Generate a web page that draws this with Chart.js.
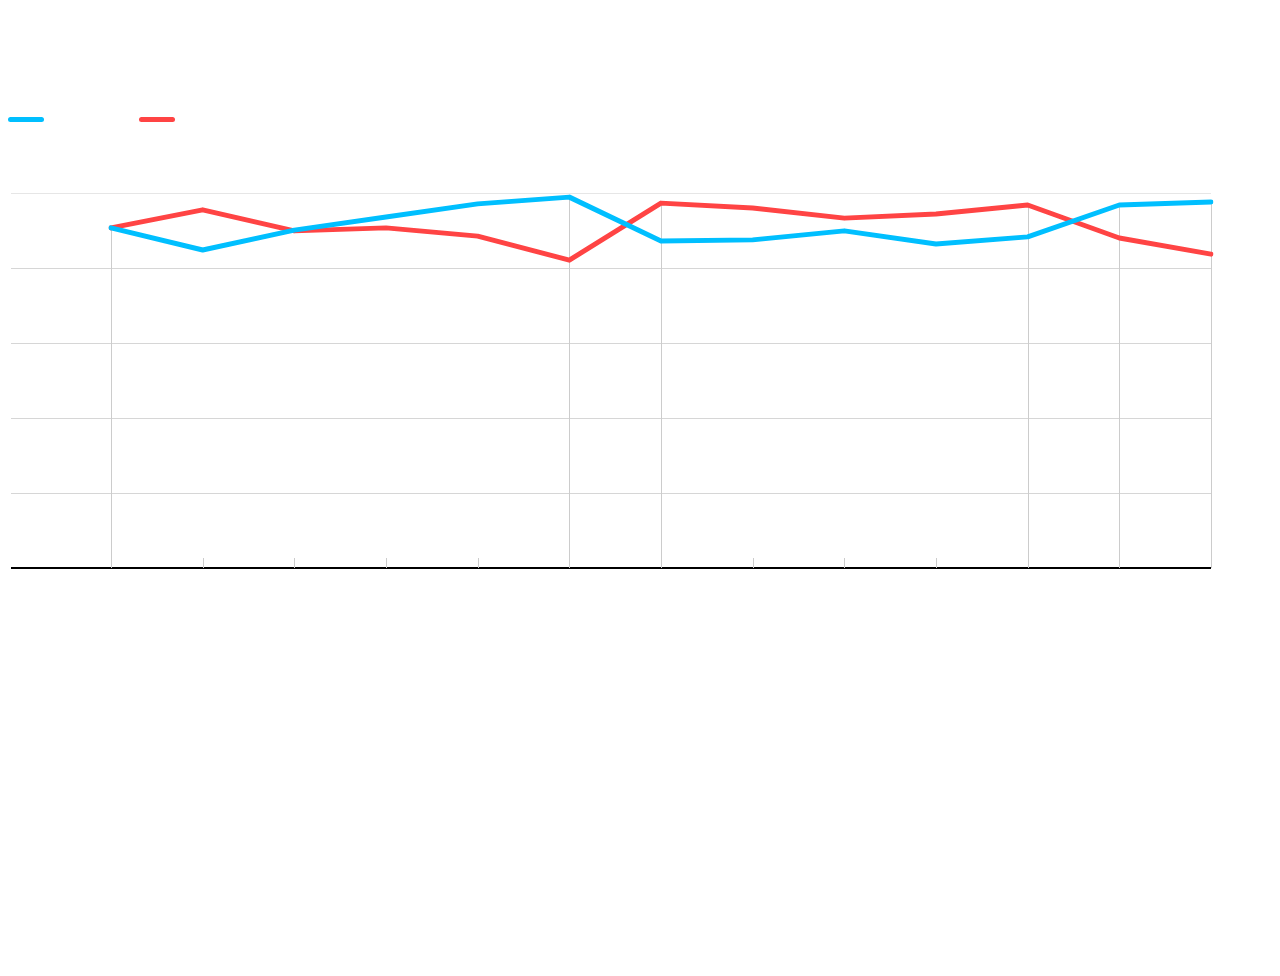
<!DOCTYPE html>
<html>
<head>
<meta charset="utf-8">
<script src="https://cdn.jsdelivr.net/npm/chart.js@4/dist/chart.umd.min.js"></script>
<style>
    body { margin: 0; background: #fff; font-family: 'Noto Sans', sans-serif; }
    #wrap { position: relative; width: 1280px; height: 600px; }
    #legend { position: absolute; left: 8px; top: 117px; display: flex; }
    #legend span { display: block; width: 36px; height: 5px; border-radius: 3px; margin-right: 95px; }
</style>
</head>
<body>
<div id="wrap">
    <canvas id="lineChart"></canvas>
    <div id="legend"></div>
</div>
<script>
// chart data
const categories = ['1', '2', '3', '4', '5', '6', '7', '8', '9', '10', '11', '12', '13'];
const blueValues = [90.7, 84.8, 90.1, 93.6, 97.1, 98.9, 87.2, 87.5, 89.9, 86.4, 88.3, 96.8, 97.6];
const redValues = [90.7, 95.5, 89.9, 90.7, 88.5, 82.1, 97.3, 96.0, 93.3, 94.4, 96.8, 88.0, 83.7];
const yTicks = [0, 20, 40, 60, 80, 100];
// points that get a drop line down to the axis
const dropPoints = [0, 5, 6, 10, 11, 12];

const BLUE = '#00bfff';
const RED = '#ff4444';

// vertical drop lines + small tick marks on the x axis
const dropLines = {
    id: 'dropLines',
    beforeDatasetsDraw(chart) {
        const { ctx, chartArea, scales } = chart;
        ctx.save();
        ctx.strokeStyle = '#cccccc';
        ctx.lineWidth = 1;
        categories.forEach((c, i) => {
            const x = Math.round(scales.x.getPixelForValue(i)) + 0.5;
            ctx.beginPath();
            if (dropPoints.includes(i)) {
                const top = scales.y.getPixelForValue(Math.max(blueValues[i], redValues[i]));
                ctx.moveTo(x, top);
            } else {
                ctx.moveTo(x, chartArea.bottom - 10);
            }
            ctx.lineTo(x, chartArea.bottom);
            ctx.stroke();
        });
        ctx.restore();
    }
};

const chart = new Chart(document.getElementById('lineChart'), {
    type: 'line',
    data: {
        labels: categories,
        datasets: [{
            label: 'Series 1',
            data: blueValues,
            borderColor: BLUE,
            backgroundColor: BLUE
        }, {
            label: 'Series 2',
            data: redValues,
            borderColor: RED,
            backgroundColor: RED
        }]
    },
    options: {
        responsive: true,
        maintainAspectRatio: false,
        animation: false,
        layout: {
            padding: { top: 193, left: 11, right: 69, bottom: 24 }
        },
        elements: {
            line: { borderWidth: 5, tension: 0, borderCapStyle: 'round', borderJoinStyle: 'round' },
            point: { radius: 0, hoverRadius: 0 }
        },
        plugins: {
            legend: { display: false },
            tooltip: { enabled: false }
        },
        scales: {
            x: {
                offset: false,
                grid: { display: false },
                border: { display: false },
                ticks: { display: false }
            },
            y: {
                min: 0,
                max: 100,
                afterBuildTicks: (axis) => {
                    axis.ticks = yTicks.map(v => ({ value: v }));
                },
                border: { display: false },
                ticks: { display: false },
                grid: {
                    drawTicks: true,
                    tickLength: 100,
                    color: (ctx) => {
                        if (ctx.tick && ctx.tick.value === 0) return '#000000';
                        if (ctx.tick && ctx.tick.value === 100) return '#e6e6e6';
                        return '#d6d6d6';
                    },
                    tickColor: (ctx) => {
                        if (ctx.tick && ctx.tick.value === 0) return '#000000';
                        if (ctx.tick && ctx.tick.value === 100) return '#e6e6e6';
                        return '#d6d6d6';
                    },
                    lineWidth: (ctx) => (ctx.tick && ctx.tick.value === 0) ? 2 : 1
                }
            }
        }
    },
    plugins: [dropLines]
});

// simple legend: line swatches only
const legendEl = document.getElementById('legend');
chart.data.datasets.forEach(ds => {
    const sw = document.createElement('span');
    sw.style.background = ds.borderColor;
    legendEl.appendChild(sw);
});
</script>
</body>
</html>
